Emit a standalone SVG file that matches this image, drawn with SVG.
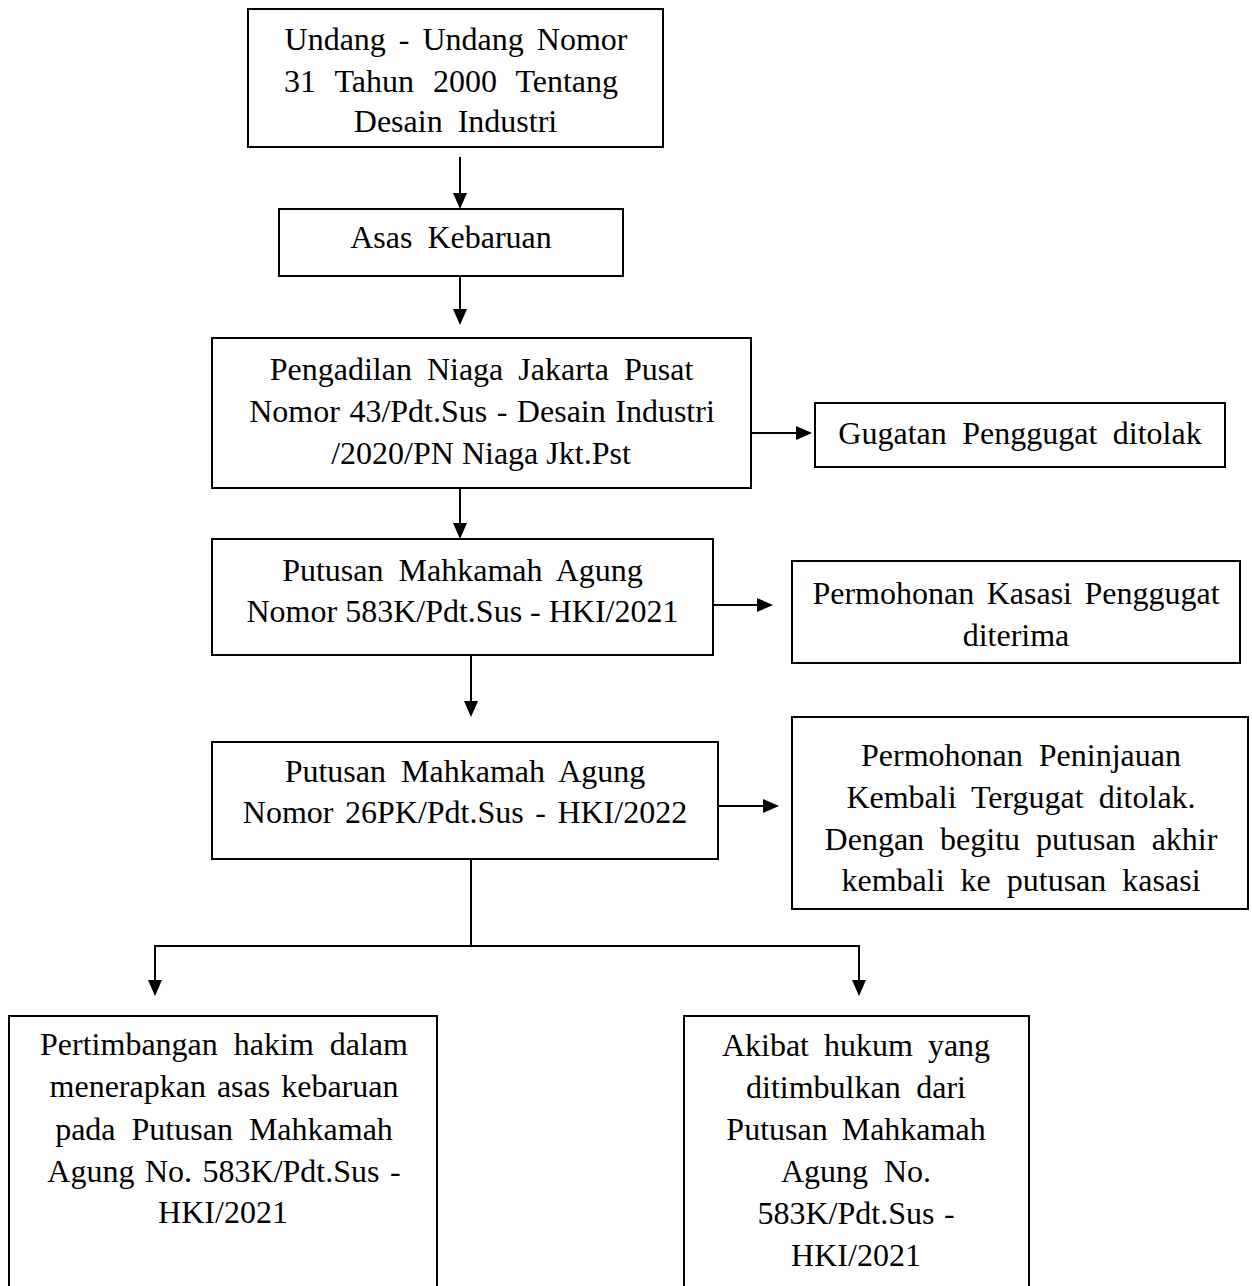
<svg xmlns="http://www.w3.org/2000/svg" width="1252" height="1286" viewBox="0 0 1252 1286">
<style>
.box{fill:#fff;stroke:#000;stroke-width:2}
.t{font-family:"Liberation Serif","Times New Roman",serif;font-size:32px;fill:#000;text-anchor:middle}
.ln{fill:none;stroke:#000;stroke-width:2}
</style>
<defs>
<marker id="ah" viewBox="0 0 16 14" refX="2" refY="7" markerWidth="16" markerHeight="14" markerUnits="userSpaceOnUse" orient="auto">
<path d="M0,0 L16,7 L0,14 Z" fill="#000"/>
</marker>
</defs>
<rect width="1252" height="1286" fill="#fff"/>
<g id="connectors">
<line class="ln" x1="460" y1="157" x2="460" y2="195" marker-end="url(#ah)"/>
<line class="ln" x1="460" y1="277" x2="460" y2="311" marker-end="url(#ah)"/>
<line class="ln" x1="751" y1="433" x2="798" y2="433" marker-end="url(#ah)"/>
<line class="ln" x1="460" y1="488" x2="460" y2="525" marker-end="url(#ah)"/>
<line class="ln" x1="713" y1="605" x2="759" y2="605" marker-end="url(#ah)"/>
<line class="ln" x1="471" y1="651" x2="471" y2="703" marker-end="url(#ah)"/>
<line class="ln" x1="718" y1="806" x2="765" y2="806" marker-end="url(#ah)"/>
<line class="ln" x1="471" y1="859" x2="471" y2="946"/>
<line class="ln" x1="154" y1="946" x2="860" y2="946"/>
<line class="ln" x1="155" y1="946" x2="155" y2="982" marker-end="url(#ah)"/>
<line class="ln" x1="859" y1="946" x2="859" y2="982" marker-end="url(#ah)"/>
</g>
<g id="n1">
<rect class="box" x="248" y="9" width="415" height="138"/>
<text class="t" x="456" y="50" style="word-spacing:5px">Undang - Undang Nomor</text>
<text class="t" x="451" y="92" style="word-spacing:11px">31 Tahun 2000 Tentang</text>
<text class="t" x="455.5" y="132" style="word-spacing:7px">Desain Industri</text>
</g>
<g id="n2">
<rect class="box" x="279" y="209" width="344" height="67"/>
<text class="t" x="451" y="248" style="word-spacing:7px">Asas Kebaruan</text>
</g>
<g id="n3">
<rect class="box" x="212" y="338" width="539" height="150"/>
<text class="t" x="481.5" y="380" style="word-spacing:7px">Pengadilan Niaga Jakarta Pusat</text>
<text class="t" x="482" y="422" style="word-spacing:1.5px">Nomor 43/Pdt.Sus - Desain Industri</text>
<text class="t" x="481" y="464" style="word-spacing:0px">/2020/PN Niaga Jkt.Pst</text>
</g>
<g id="n4">
<rect class="box" x="815" y="403" width="410" height="64"/>
<text class="t" x="1020" y="444" style="word-spacing:7.5px">Gugatan Penggugat ditolak</text>
</g>
<g id="n5">
<rect class="box" x="212" y="539" width="501" height="116"/>
<text class="t" x="462.5" y="581" style="word-spacing:7px">Putusan Mahkamah Agung</text>
<text class="t" x="462.5" y="622" style="word-spacing:0px">Nomor 583K/Pdt.Sus - HKI/2021</text>
</g>
<g id="n6">
<rect class="box" x="792" y="561" width="448" height="102"/>
<text class="t" x="1016" y="604" style="word-spacing:4.5px">Permohonan Kasasi Penggugat</text>
<text class="t" x="1016" y="646">diterima</text>
</g>
<g id="n7">
<rect class="box" x="212" y="742" width="506" height="117"/>
<text class="t" x="465" y="782" style="word-spacing:7px">Putusan Mahkamah Agung</text>
<text class="t" x="465" y="823" style="word-spacing:3.5px">Nomor 26PK/Pdt.Sus - HKI/2022</text>
</g>
<g id="n8">
<rect class="box" x="792" y="717" width="456" height="192"/>
<text class="t" x="1021" y="766" style="word-spacing:8px">Permohonan Peninjauan</text>
<text class="t" x="1021" y="808" style="word-spacing:7px">Kembali Tergugat ditolak.</text>
<text class="t" x="1021" y="850" style="word-spacing:8px">Dengan begitu putusan akhir</text>
<text class="t" x="1021" y="891" style="word-spacing:8px">kembali ke putusan kasasi</text>
</g>
<g id="n9">
<rect class="box" x="9" y="1016" width="428" height="290"/>
<text class="t" x="224" y="1055" style="word-spacing:8px">Pertimbangan hakim dalam</text>
<text class="t" x="224" y="1097" style="word-spacing:3px">menerapkan asas kebaruan</text>
<text class="t" x="224" y="1140" style="word-spacing:8px">pada Putusan Mahkamah</text>
<text class="t" x="224" y="1182" style="word-spacing:2.5px">Agung No. 583K/Pdt.Sus -</text>
<text class="t" x="223" y="1223">HKI/2021</text>
</g>
<g id="n10">
<rect class="box" x="684" y="1016" width="345" height="290"/>
<text class="t" x="856" y="1056" style="word-spacing:7px">Akibat hukum yang</text>
<text class="t" x="856" y="1098" style="word-spacing:7.5px">ditimbulkan dari</text>
<text class="t" x="856" y="1140" style="word-spacing:6px">Putusan Mahkamah</text>
<text class="t" x="856" y="1182" style="word-spacing:8px">Agung No.</text>
<text class="t" x="856" y="1224" style="word-spacing:1.5px">583K/Pdt.Sus -</text>
<text class="t" x="856" y="1266">HKI/2021</text>
</g>
</svg>
